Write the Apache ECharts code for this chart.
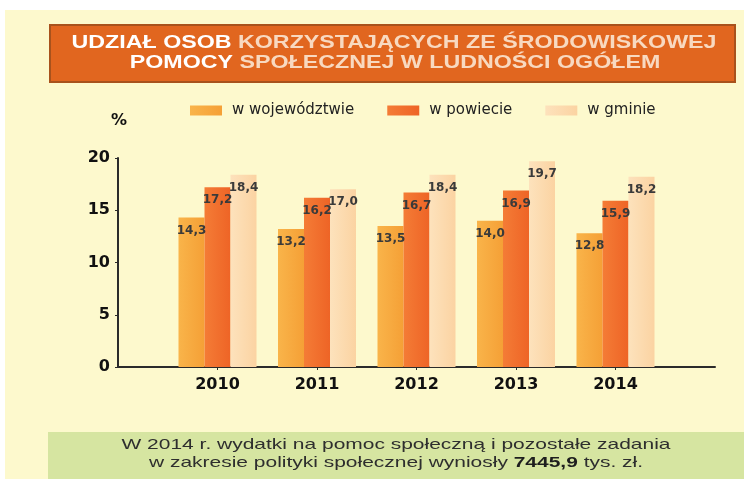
<!DOCTYPE html>
<html>
<head>
<meta charset="utf-8">
<script src="https://cdn.jsdelivr.net/npm/echarts@6/dist/echarts.min.js"></script>
<style>
html,body{margin:0;padding:0;background:#ffffff;}
#chart{width:744px;height:479px;}
</style>
</head>
<body>
<div id="chart"></div>
<script>
// ---- data ----
const years = ['2010', '2011', '2012', '2013', '2014'];
const seriesNames = ['w województwie', 'w powiecie', 'w gminie'];
const valWojewodztwo = [14.3, 13.2, 13.5, 14.0, 12.8];
const valPowiat = [17.2, 16.2, 16.7, 16.9, 15.9];
const valGmina = [18.4, 17.0, 18.4, 19.7, 18.2];
const yTicks = [0, 5, 10, 15, 20];
const titleLine1a = 'UDZIAŁ OSOB';
const titleLine1b = 'KORZYSTAJĄCYCH ZE ŚRODOWISKOWEJ';
const titleLine2a = 'POMOCY';
const titleLine2b = 'SPOŁECZNEJ W LUDNOŚCI OGÓŁEM';
const noteLine1 = 'W 2014 r. wydatki na pomoc społeczną i pozostałe zadania';
const noteLine2a = 'w zakresie polityki społecznej wyniosły ';
const noteLine2b = '7445,9';
const noteLine2c = ' tys. zł.';
const unitLabel = '%';

// ---- helpers ----
const ctx = document.createElement('canvas').getContext('2d');
function measure(text, font) { ctx.font = font; return ctx.measureText(text).width; }

const titleFont = 'bold 19px "Liberation Sans", Arial, sans-serif';
const titleScale = 645 / measure(titleLine1a + ' ' + titleLine1b, titleFont);
const noteFont = '15px "Liberation Sans", Arial, sans-serif';
const noteScale = 549 / measure(noteLine1, noteFont);

// padded categories: empty slots at both ends of the axis
const cats = [''].concat(years, ['']);
function pad(arr) { return ['-'].concat(arr, ['-']); }

function grad(c1, c2) {
  return new echarts.graphic.LinearGradient(0, 0, 1, 0, [
    { offset: 0, color: c1 }, { offset: 1, color: c2 }
  ]);
}
const colors = [grad('#F9B44A', '#F5A036'), grad('#F47C36', '#EE6426'), grad('#FDE2BC', '#FBD3A2')];

const labelCfg = {
  show: true,
  position: 'insideTop',
  distance: 7,
  fontFamily: 'DejaVu Sans, sans-serif',
  fontSize: 12,
  fontWeight: 'bold',
  color: '#3a3a3a',
  formatter: function (p) { return (typeof p.value === 'number') ? p.value.toFixed(1).replace('.', ',') : ''; }
};

const dataSets = [valWojewodztwo, valPowiat, valGmina];
const series = dataSets.map(function (d, i) {
  return {
    name: seriesNames[i],
    type: 'bar',
    data: pad(d),
    barWidth: 26,
    barGap: '0%',
    itemStyle: { color: colors[i] },
    label: labelCfg,
    emphasis: { disabled: true }
  };
});

const chart = echarts.init(document.getElementById('chart'), null, { renderer: 'canvas' });
chart.setOption({
  backgroundColor: '#ffffff',
  animation: false,
  color: colors,
  grid: { left: 118, right: 29, top: 158, bottom: 112, containLabel: false },
  legend: {
    left: 185,
    top: 98,
    itemWidth: 32,
    itemHeight: 10,
    itemGap: 33,
    icon: 'rect',
    textStyle: { fontFamily: 'DejaVu Sans, sans-serif', fontSize: 15, color: '#222', padding: [0, 0, 0, 5] },
    data: seriesNames
  },
  xAxis: {
    type: 'category',
    data: cats,
    boundaryGap: false,
    axisLine: { lineStyle: { color: '#2b2b2b', width: 2 } },
    axisTick: { show: true, length: 3, lineStyle: { color: '#2b2b2b' }, interval: function (i, v) { return v !== ''; } },
    axisLabel: {
      interval: function (i, v) { return v !== ''; },
      margin: 10,
      fontFamily: 'DejaVu Sans, sans-serif',
      fontSize: 16,
      fontWeight: 'bold',
      color: '#111'
    },
    splitLine: { show: false }
  },
  yAxis: {
    type: 'value',
    min: yTicks[0],
    max: yTicks[yTicks.length - 1],
    interval: yTicks[1] - yTicks[0],
    axisLine: { show: true, lineStyle: { color: '#2b2b2b', width: 2 } },
    axisTick: { show: true, length: 3, lineStyle: { color: '#2b2b2b' } },
    axisLabel: { margin: 8, fontFamily: 'DejaVu Sans, sans-serif', fontSize: 16, fontWeight: 'bold', color: '#111' },
    splitLine: { show: false }
  },
  graphic: [
    { type: 'rect', z: -10, silent: true, shape: { x: 5, y: 10, width: 739, height: 469 }, style: { fill: '#FDF9CD' } },
    { type: 'rect', z: -5, silent: true, shape: { x: 50, y: 25, width: 685, height: 57 }, style: { fill: '#E1661F', stroke: '#A8521C', lineWidth: 2 } },
    {
      type: 'text', silent: true, z: 5, x: 394, y: 43, scaleX: titleScale,
      style: {
        text: '{w|' + titleLine1a + '} {p|' + titleLine1b + '}',
        align: 'center', verticalAlign: 'middle', textAlign: 'center', textVerticalAlign: 'middle',
        font: titleFont,
        rich: {
          w: { fill: '#FFFFFF', font: titleFont },
          p: { fill: '#F8D9C0', font: titleFont }
        }
      }
    },
    {
      type: 'text', silent: true, z: 5, x: 395, y: 63, scaleX: titleScale,
      style: {
        text: '{w|' + titleLine2a + '} {p|' + titleLine2b + '}',
        align: 'center', verticalAlign: 'middle', textAlign: 'center', textVerticalAlign: 'middle',
        font: titleFont,
        rich: {
          w: { fill: '#FFFFFF', font: titleFont },
          p: { fill: '#F8D9C0', font: titleFont }
        }
      }
    },
    {
      type: 'text', silent: true, z: 5, x: 119, y: 121,
      style: { text: unitLabel, align: 'center', verticalAlign: 'middle', textAlign: 'center', textVerticalAlign: 'middle', font: 'bold 16px "DejaVu Sans", sans-serif', fill: '#111' }
    },
    { type: 'rect', z: -5, silent: true, shape: { x: 48, y: 432, width: 696, height: 47 }, style: { fill: '#D6E5A1' } },
    {
      type: 'text', silent: true, z: 5, x: 396, y: 445, scaleX: noteScale,
      style: { text: noteLine1, align: 'center', verticalAlign: 'middle', textAlign: 'center', textVerticalAlign: 'middle', font: noteFont, fill: '#2e2e2e' }
    },
    {
      type: 'text', silent: true, z: 5, x: 396, y: 463, scaleX: noteScale,
      style: {
        text: '{n|' + noteLine2a + '}{b|' + noteLine2b + '}{n|' + noteLine2c + '}',
        align: 'center', verticalAlign: 'middle', textAlign: 'center', textVerticalAlign: 'middle',
        font: noteFont,
        rich: {
          n: { fill: '#2e2e2e', font: noteFont },
          b: { fill: '#1e1e1e', font: 'bold 15px "Liberation Sans", Arial, sans-serif' }
        }
      }
    }
  ],
  series: series
});
</script>
</body>
</html>
